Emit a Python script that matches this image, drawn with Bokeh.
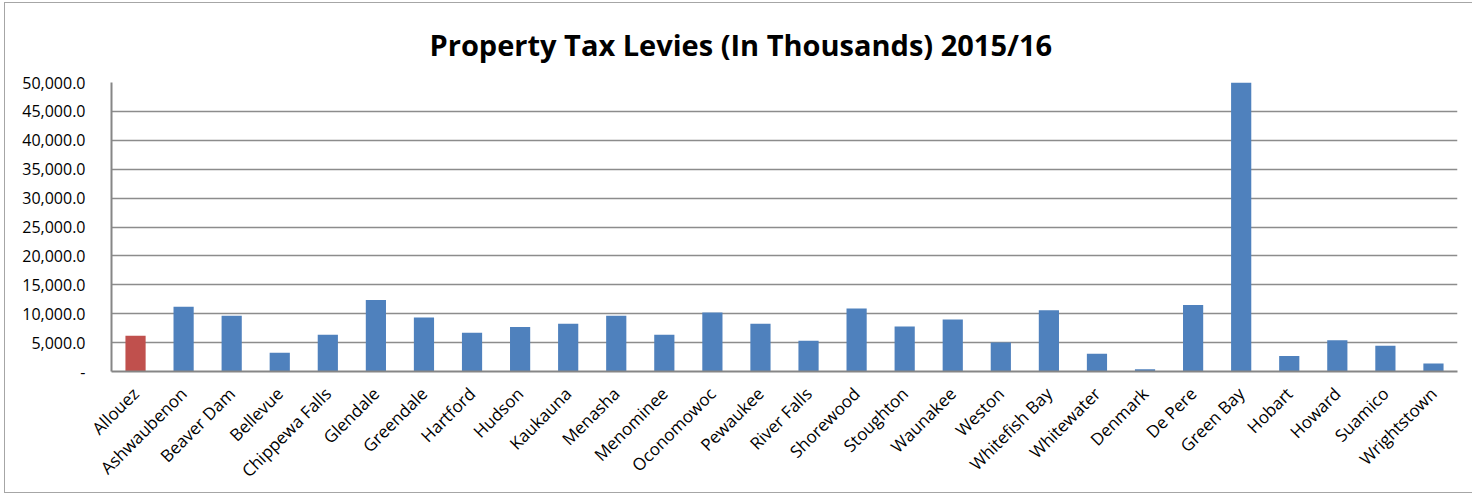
import math
from bokeh.plotting import figure
from bokeh.models import ColumnDataSource, CustomJSTickFormatter, FixedTicker, Range1d
from bokeh.embed import file_html
from bokeh.resources import INLINE

towns = ["Allouez", "Ashwaubenon", "Beaver Dam", "Bellevue", "Chippewa Falls", "Glendale",
         "Greendale", "Hartford", "Hudson", "Kaukauna", "Menasha", "Menominee", "Oconomowoc",
         "Pewaukee", "River Falls", "Shorewood", "Stoughton", "Waunakee", "Weston",
         "Whitefish Bay", "Whitewater", "Denmark", "De Pere", "Green Bay", "Hobart", "Howard",
         "Suamico", "Wrightstown"]
levies = [6180, 11200, 9650, 3240, 6360, 12370, 9360, 6700, 7690, 8270, 9650, 6360, 10200,
          8270, 5300, 10900, 7800, 9000, 5000, 10600, 3060, 400, 11500, 50000, 2700, 5400,
          4450, 1390]
highlight_town = "Allouez"
y_ticks = list(range(0, 50001, 5000))

BLUE = "#4F81BD"
RED = "#C0504D"
colors = [RED if t == highlight_town else BLUE for t in towns]

src = ColumnDataSource(dict(town=towns, levy=levies, color=colors))

p = figure(x_range=towns, y_range=Range1d(0, 50000), width=1468, height=491,
           output_backend="svg", toolbar_location=None,
           min_border_left=106, min_border_right=16, min_border_top=79, min_border_bottom=123)
p.styles = {"margin-left": "4px", "margin-top": "2px",
            "border-style": "solid", "border-color": "#a6a6a6",
            "border-width": "1.5px 0px 1.5px 1.5px"}

p.title.text = "Property Tax Levies (In Thousands) 2015/16"
p.title.align = "left"
p.title.text_font = "Open Sans"
p.title.text_font_size = "29px"
p.title.text_font_style = "bold"
p.title.text_color = "#000000"
p.title.standoff = 38
p.title.offset = 318

p.vbar(x="town", top="levy", width=0.42, source=src, fill_color="color", line_color=None)

p.outline_line_color = None
p.xgrid.grid_line_color = None
p.ygrid.grid_line_color = "#8c8c8c"
p.ygrid.grid_line_width = 1.5

p.yaxis.ticker = FixedTicker(ticks=y_ticks)
p.yaxis.formatter = CustomJSTickFormatter(code="""
    if (tick == 0) { return "-"; }
    return tick.toLocaleString('en-US', {minimumFractionDigits: 1, maximumFractionDigits: 1});
""")
for ax in (p.xaxis, p.yaxis):
    ax.axis_line_color = "#868686"
    ax.axis_line_width = 2
    ax.major_tick_line_color = None
    ax.minor_tick_line_color = None
    ax.major_label_text_font = "Open Sans"
    ax.major_label_text_font_size = "16px"
    ax.major_label_text_color = "#000000"
p.yaxis.major_label_standoff = 20
p.xaxis.major_label_text_font_size = "17px"
p.xaxis.major_label_orientation = math.pi / 4
p.xaxis.major_label_standoff = 13
p.x_range.range_padding = 0.0

open("out.html", "w").write(file_html(p, INLINE))
